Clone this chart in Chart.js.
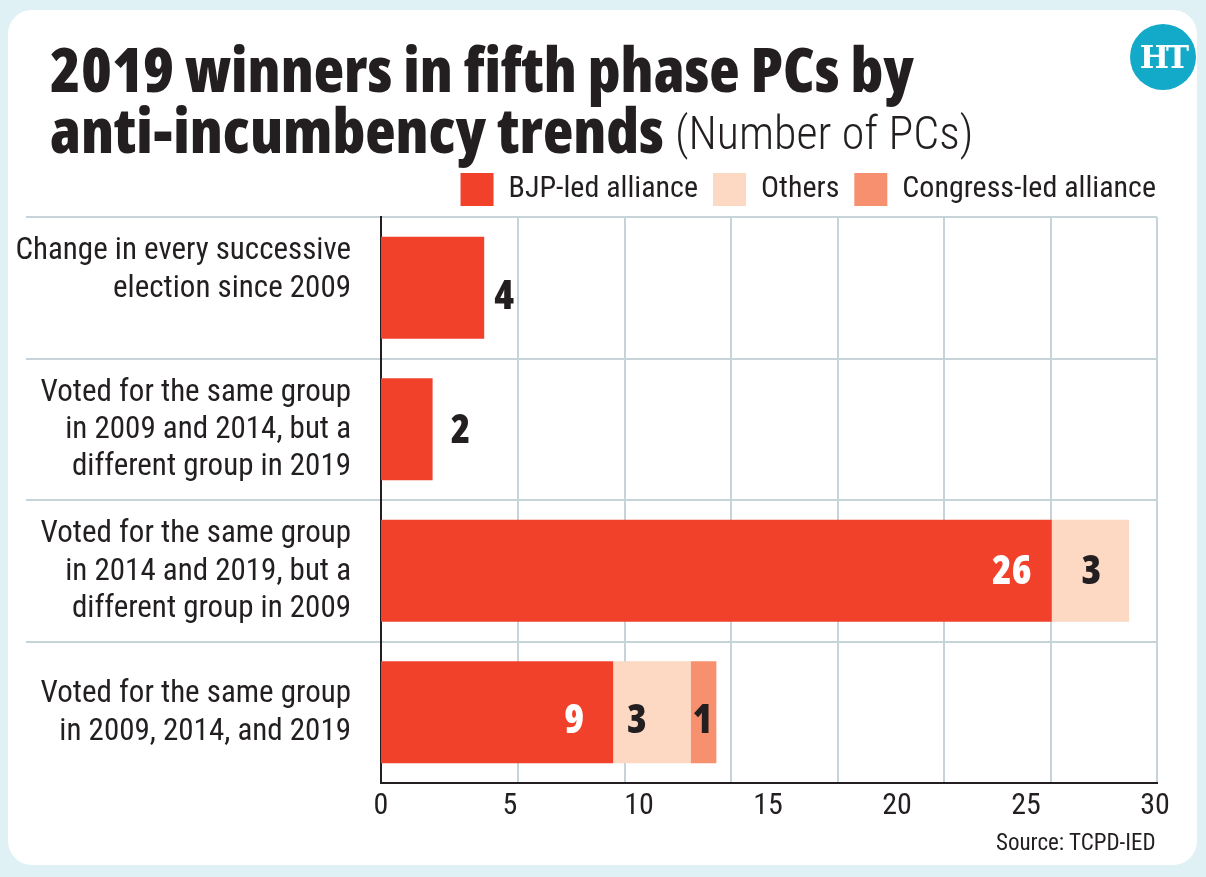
<!DOCTYPE html>
<html>
<head>
<meta charset="utf-8">
<script src="https://cdn.jsdelivr.net/npm/chart.js@4"></script>
<style>
  html, body { margin: 0; padding: 0; width: 1206px; height: 877px; overflow: hidden; background: #e0f1f5; }
  #card { position: absolute; left: 8px; top: 10px; width: 1189px; height: 855px; background: #fff; border-radius: 24px; }
  #chart { position: absolute; left: 0; top: 0; }
  .t { position: absolute; color: #231f20; white-space: nowrap; }
  .head { font-family: "Open Sans", sans-serif; font-stretch: condensed; font-weight: 800; font-size: 62.6px; line-height: 62px; }
  .light { font-family: "Roboto Condensed", sans-serif; font-weight: 300; font-size: 46px; }
  #logo { position: absolute; left: 1130px; top: 24px; width: 66px; height: 66px; border-radius: 50%; background: #13a9c9; color: #fff;
          font: 700 31px/66px "DejaVu Serif", serif; text-align: center; letter-spacing: -3px; }
  #source { font-family: "Roboto Condensed", sans-serif; font-size: 23px; left: 996px; top: 829px; }
</style>
</head>
<body>
<div id="card"></div>
<canvas id="chart" width="1206" height="877"></canvas>
<div class="t head" style="left:50px;top:37px">2019 winners in fifth phase PCs by</div>
<div class="t head" style="left:50px;top:98px">anti-incumbency trends</div>
<div class="t light" style="left:675px;top:106px">(Number of PCs)</div>
<div id="logo">HT</div>
<div class="t" id="source">Source: TCPD-IED</div>
<script>
// Constituency groups by how their vote moved across three elections
const categories = [
  ["Change in every successive", "election since 2009", ""],
  ["Voted for the same group", "in 2009 and 2014, but a", "different group in 2019"],
  ["Voted for the same group", "in 2014 and 2019, but a", "different group in 2009"],
  ["Voted for the same group", "in 2009, 2014, and 2019"]
];
const seriesNames = ["BJP-led alliance", "Others", "Congress-led alliance"];
const bjpLed = [4, 2, 26, 9];
const others = [0, 0, 3, 3];
const congressLed = [0, 0, 0, 1];
const seriesColors = ["#f1412b", "#fdd8c3", "#f6906e"];
const xTicks = [0, 5, 10, 15, 20, 25, 30];
const xMax = 30.08;
// Vertical rules sit on their own even spacing, independent of the labelled ticks
const ruleValues = [5.31, 9.46, 13.57, 17.71, 21.81, 25.97, 30.08];

const INK = "#231f20", RULE = "#c6d4d9", COND = '"Roboto Condensed", sans-serif';

// Per-label pixel shifts [dx, dy], keyed "series:row"
const labelNudge = {
  "0:0": [20, 10], "0:1": [28, 2], "0:2": [-40, 2], "0:3": [-39, 9],
  "1:2": [1, 2], "1:3": [-15, 9], "2:3": [-1, 9]
};
const valueLabels = {
  id: "valueLabels",
  // Seat the legend against the right edge of the rules
  afterLayout(chart) {
    chart.legend.top -= 1;
    chart.legend.left += 14;
    chart.legend.right += 14;
  },
  afterDatasetsDraw(chart) {
    const { ctx } = chart;
    ctx.save();
    ctx.font = 'semi-condensed 800 40px "Open Sans", sans-serif';
    ctx.textAlign = "center";
    ctx.textBaseline = "middle";
    chart.data.datasets.forEach((ds, d) => {
      chart.getDatasetMeta(d).data.forEach((bar, i) => {
        const v = ds.data[i];
        if (!v) return;
        const [dx, dy] = labelNudge[d + ":" + i] || [0, 0];
        const anchor = d === 0 ? bar.x : (bar.base + bar.x) / 2;
        ctx.fillStyle = d === 0 && i >= 2 ? "#fff" : INK;
        ctx.fillText(String(v), anchor + dx, bar.y + dy);
      });
    });
    ctx.restore();
  }
};

new Chart(document.getElementById("chart"), {
  type: "bar",
  data: {
    labels: categories,
    datasets: [bjpLed, others, congressLed].map((data, i) => ({
      label: seriesNames[i],
      data,
      backgroundColor: seriesColors[i],
      categoryPercentage: 0.72,
      barPercentage: 1,
      borderWidth: 0
    }))
  },
  options: {
    indexAxis: "y",
    responsive: false,
    animation: false,
    layout: { padding: { left: 16, right: 49, top: 159, bottom: 58 } },
    plugins: {
      tooltip: { enabled: false },
      legend: {
        position: "top",
        align: "end",
        labels: {
          color: INK,
          boxWidth: 33,
          boxHeight: 33,
          padding: 15,
          font: { family: COND, size: 30 }
        }
      }
    },
    scales: {
      x: {
        type: "linear",
        stacked: true,
        min: 0,
        max: xMax,
        afterBuildTicks(scale) { scale.ticks = xTicks.map(value => ({ value })); },
        afterFit(scale) { scale.height = 36; },
        grid: { display: false },
        border: { color: INK, width: 2 },
        ticks: { color: INK, maxRotation: 0, autoSkip: false, padding: -3, font: { family: COND, size: 30 } }
      },
      rules: {
        type: "linear",
        axis: "x",
        position: "bottom",
        min: 0,
        max: xMax,
        afterBuildTicks(scale) { scale.ticks = ruleValues.map(value => ({ value })); },
        afterFit(scale) { scale.height = 0; },
        grid: { color: RULE, lineWidth: 2, drawTicks: false },
        border: { display: false },
        ticks: { display: false }
      },
      y: {
        stacked: true,
        afterFit(scale) { scale.width = 365; },
        grid: {
          offset: true,
          color: RULE,
          lineWidth: 2,
          tickLength: 355,
          // The closing line under the last row has no extension across the labels
          tickColor: ctx => (ctx.tick === undefined ? "rgba(0,0,0,0)" : RULE)
        },
        border: { color: INK, width: 2 },
        ticks: {
          color: INK,
          padding: -325,
          labelOffset: 1,
          autoSkip: false,
          font: { family: COND, size: 31, lineHeight: 1.2 }
        }
      }
    }
  },
  plugins: [valueLabels]
});
</script>
</body>
</html>
